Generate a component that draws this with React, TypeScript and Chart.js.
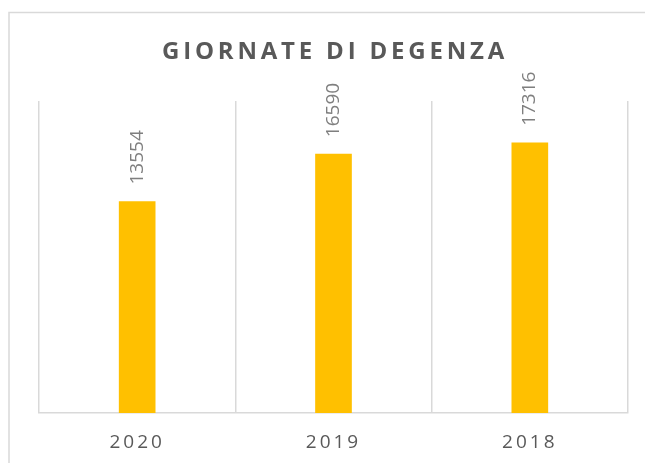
import React, { useEffect, useRef } from "react";
import { Chart, registerables } from "chart.js";

Chart.register(...registerables);

const categories = ["2020", "2019", "2018"];
const values = [13554, 16590, 17316];
const chartTitle = "GIORNATE DI DEGENZA";
const yMax = 20000;

const FONT = '"Open Sans", "Liberation Sans", sans-serif';

const decorPlugin = {
  id: "decor",
  beforeDraw(chart: any) {
    const ctx = chart.ctx;
    ctx.save();
    ctx.strokeStyle = "#d9d9d9";
    ctx.lineWidth = 1.5;
    ctx.strokeRect(9, 12.5, 900, 700);
    ctx.restore();
    (ctx as any).letterSpacing = "3px";
  },
  afterDatasetsDraw(chart: any) {
    const ctx = chart.ctx;
    const meta = chart.getDatasetMeta(0);
    ctx.save();
    (ctx as any).letterSpacing = "0px";
    ctx.fillStyle = "#7f7f7f";
    ctx.font = `19px ${FONT}`;
    ctx.textAlign = "left";
    ctx.textBaseline = "middle";
    meta.data.forEach((bar: any, i: number) => {
      ctx.save();
      ctx.translate(bar.x, bar.y - 17);
      ctx.rotate(-Math.PI / 2);
      ctx.fillText(String(values[i]), 0, 0);
      ctx.restore();
    });
    ctx.restore();
  },
  afterDraw(chart: any) {
    const ctx = chart.ctx;
    ctx.save();
    (ctx as any).letterSpacing = "3.8px";
    ctx.fillStyle = "#595959";
    ctx.font = `bold 24px ${FONT}`;
    ctx.textAlign = "center";
    ctx.textBaseline = "middle";
    ctx.fillText(chartTitle, 335, 52);
    ctx.restore();
    (ctx as any).letterSpacing = "0px";
  },
};

export default function App() {
  const ref = useRef<HTMLCanvasElement | null>(null);
  useEffect(() => {
    if (!ref.current) return;
    const chart = new Chart(ref.current, {
      type: "bar",
      data: {
        labels: categories,
        datasets: [
          {
            data: values,
            backgroundColor: "#FFC000",
            borderWidth: 0,
            barThickness: 36,
          },
        ],
      },
      options: {
        responsive: false,
        animation: false,
        devicePixelRatio: 1,
        layout: { padding: { left: 39, right: 17, top: 101, bottom: 0 } },
        plugins: {
          legend: { display: false },
          tooltip: { enabled: false },
          title: { display: false },
        },
        scales: {
          x: {
            offset: true,
            grid: {
              display: true,
              offset: true,
              color: "#d9d9d9",
              lineWidth: 1.5,
              drawTicks: false,
            },
            border: { display: true, color: "#d9d9d9", width: 1.5 },
            ticks: {
              color: "#595959",
              font: { family: FONT, size: 19 },
              padding: 18,
            },
            afterFit(scale: any) {
              scale.height = 50;
            },
          },
          y: {
            display: false,
            min: 0,
            max: yMax,
          },
        },
      },
      plugins: [decorPlugin],
    });
    return () => chart.destroy();
  }, []);
  return (
    <div style={{ position: "fixed", left: 0, top: 0, width: 645, height: 463, background: "#fff" }}>
      <canvas ref={ref} width={645} height={463} style={{ width: 645, height: 463 }} />
    </div>
  );
}
